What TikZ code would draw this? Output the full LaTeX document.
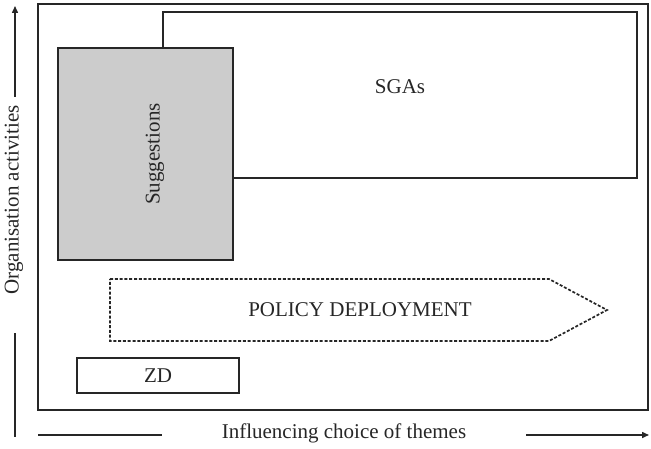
\documentclass[tikz,border=0pt]{standalone}
\usepackage{fontspec}
\setmainfont{Liberation Serif}
\usetikzlibrary{arrows.meta}
\definecolor{lc}{gray}{0.15}
\definecolor{boxgray}{gray}{0.80}
\tikzset{
  frameline/.style={draw=lc, line width=2pt},
  boxline/.style={draw=lc, line width=1.7pt},
  lbl/.style={font=\fontsize{21}{25}\selectfont, text=lc, inner sep=0pt},
  axisline/.style={draw=lc, line width=1.5pt},
}
\begin{document}
\begin{tikzpicture}[x=1pt,y=-1pt]
\useasboundingbox (0,0) rectangle (651,449);
% outer frame
\draw[frameline] (38,4) rectangle (648,410);
% SGAs box
\draw[boxline] (163,12) rectangle (637,178);
\node[lbl] (sga) at (400,87) {SGAs};
% Suggestions box
\draw[boxline, fill=boxgray] (58,48) rectangle (233,260);
\node[lbl, rotate=90] (sug) at (155,154) {Suggestions};
% Policy deployment arrow
\draw[draw=lc, line width=1.7pt, dash pattern=on 3pt off 1.8pt]
  (110,279) -- (549,279) -- (607,310) -- (549,341) -- (110,341) -- cycle;
\node[lbl] (pol) at (360,310) {POLICY DEPLOYMENT};
% ZD box
\draw[boxline] (77,358) rectangle (239,393);
\node[lbl] (zd) at (158,376) {ZD};
% vertical axis
\node[lbl, rotate=90] (ya) at (14,200) {Organisation activities};
\coordinate (y1) at (15,97);
\coordinate (y2) at (15,6);
\coordinate (y3) at (15,333);
\coordinate (y4) at (15,437);
\draw[axisline, -{Triangle[length=7pt,width=6pt]}] (y1) -- (y2);
\draw[axisline] (y3) -- (y4);
% horizontal axis
\node[lbl] (xa) at (344,433) {Influencing choice of themes};
\coordinate (x1) at (38,435);
\coordinate (x2) at (162,435);
\coordinate (x3) at (526,435);
\coordinate (x4) at (649,435);
\draw[axisline] (x1) -- (x2);
\draw[axisline, -{Triangle[length=7pt,width=6pt]}] (x3) -- (x4);
\end{tikzpicture}
\end{document}
